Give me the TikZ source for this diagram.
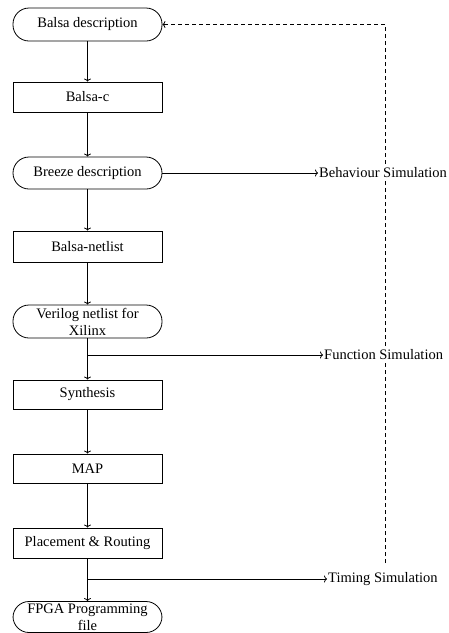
\documentclass[tikz,border=0pt]{standalone}
\usepackage{fontspec}
\setmainfont{Liberation Serif}
\usetikzlibrary{arrows.meta}
\begin{document}
\begin{tikzpicture}[x=1pt,y=-1pt,
  every node/.style={font=\fontsize{14.5}{17}\selectfont},
  box/.style={draw,line width=0.8pt,minimum width=149pt,inner sep=0pt,align=center},
  term/.style={box,rounded corners=16pt},
  lbl/.style={fill=white,inner sep=1pt,anchor=west},
  link/.style={line width=0.8pt,-{To[length=3pt,width=7pt]}}]
\useasboundingbox (0,0) rectangle (448,633);
\node[term,minimum height=33pt] (balsa) at (87.5,24.5) {Balsa description};
\node[box,minimum height=30pt] (balsac) at (87.5,97) {Balsa-c};
\node[term,minimum height=32pt] (breeze) at (87.5,173) {Breeze description};
\node[box,minimum height=31pt] (netlist) at (87.5,246.5) {Balsa-netlist};
\node[term,minimum height=33pt] (verilog) at (87.5,321.5) {Verilog netlist for\\Xilinx};
\node[box,minimum height=29pt] (synth) at (87.5,394.5) {Synthesis};
\node[box,minimum height=29pt] (map) at (87.5,468.5) {MAP};
\node[box,minimum height=30pt] (pr) at (87.5,543) {Placement \& Routing};
\node[term,minimum height=31pt] (fpga) at (87.5,617) {FPGA Programming\\file};
\draw[link] (balsa) -- (balsac);
\draw[link] (balsac) -- (breeze);
\draw[link] (breeze) -- (netlist);
\draw[link] (netlist) -- (verilog);
\draw[link] (verilog) -- (synth);
\draw[link] (synth) -- (map);
\draw[link] (map) -- (pr);
\draw[link] (pr) -- (fpga);
\coordinate (dbot) at (385,563);
\coordinate (dtop) at (385,24.5);
\draw[link,dash pattern=on 4pt off 3pt] (dbot) -- (dtop) -- (balsa.east);
\node[lbl] (beh) at (318,173) {Behaviour Simulation};
\node[lbl] (func) at (323,355) {Function Simulation};
\node[lbl] (tim) at (327,579) {Timing Simulation};
\draw[link] (breeze.east) -- (beh.west);
\draw[link] (verilog.south |- func.west) -- (func.west);
\draw[link] (pr.south |- tim.west) -- (tim.west);
\end{tikzpicture}
\end{document}
